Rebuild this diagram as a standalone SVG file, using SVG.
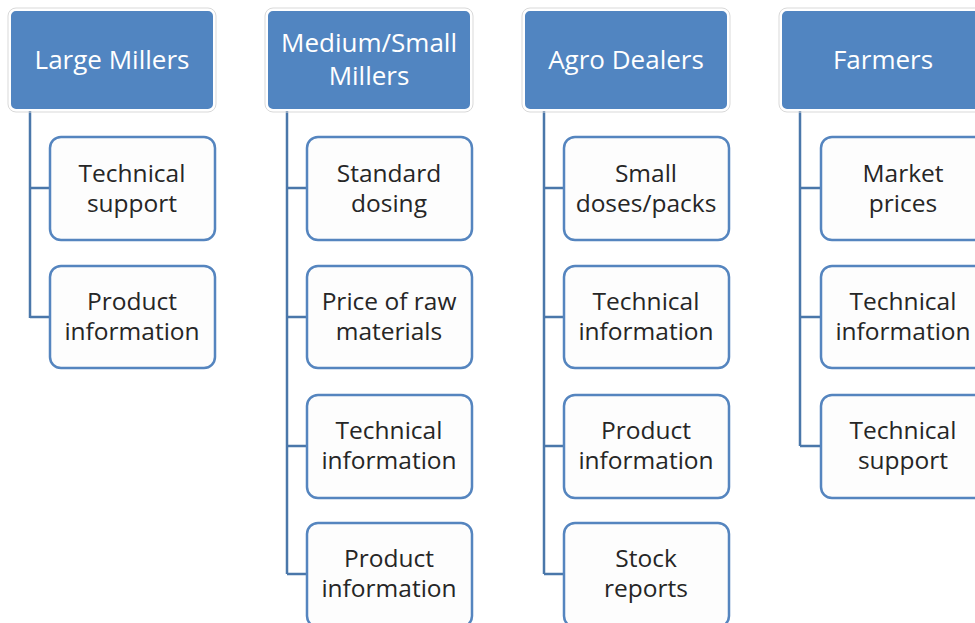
<svg xmlns="http://www.w3.org/2000/svg" width="975" height="623" viewBox="0 0 975 623">
<style>
.hd{fill:#5185c1;stroke:#ffffff;stroke-width:2}
.hs{fill:none;stroke:#d9d9d9;stroke-width:1}
.ch{fill:#fdfdfd;stroke:#5585bf;stroke-width:2.5}
.ht{font-family:"Open Sans","Liberation Sans",sans-serif;font-size:26px;fill:#ffffff;text-anchor:middle}
.ct{font-family:"Open Sans","Liberation Sans",sans-serif;font-size:24.5px;fill:#262626;text-anchor:middle}
.cn{fill:none;stroke:#4a77aa;stroke-width:2.5}
</style>
<rect width="975" height="623" fill="#ffffff"/>
<g id="connectors">
<path class="cn" d="M30 110V318M30 188H50M30 317H50"/>
<path class="cn" d="M287 110V574M287 188H307M287 317H307M287 446H307M287 574H307"/>
<path class="cn" d="M544 110V574M544 188H564M544 317H564M544 446H564M544 574H564"/>
<path class="cn" d="M800 110V446M800 188H821M800 317H821M800 446H821"/>
</g>
<g id="h1"><rect class="hs" x="8" y="8" width="208" height="104" rx="8"/><rect class="hd" x="10" y="10" width="204" height="100" rx="6"/><text class="ht" x="112" y="69">Large Millers</text></g>
<g id="h2"><rect class="hs" x="265" y="8" width="208" height="104" rx="8"/><rect class="hd" x="267" y="10" width="204" height="100" rx="6"/><text class="ht" x="369" y="52">Medium/Small</text><text class="ht" x="369" y="85">Millers</text></g>
<g id="h3"><rect class="hs" x="522" y="8" width="208" height="104" rx="8"/><rect class="hd" x="524" y="10" width="204" height="100" rx="6"/><text class="ht" x="626" y="69">Agro Dealers</text></g>
<g id="h4"><rect class="hs" x="779" y="8" width="208" height="104" rx="8"/><rect class="hd" x="781" y="10" width="204" height="100" rx="6"/><text class="ht" x="883" y="69">Farmers</text></g>

<g id="c1a"><rect class="ch" x="50" y="137" width="165" height="103" rx="11"/><text class="ct" x="132" y="182">Technical</text><text class="ct" x="132" y="212">support</text></g>
<g id="c1b"><rect class="ch" x="50" y="266" width="165" height="102" rx="11"/><text class="ct" x="132" y="310">Product</text><text class="ct" x="132" y="340">information</text></g>

<g id="c2a"><rect class="ch" x="307" y="137" width="165" height="103" rx="11"/><text class="ct" x="389" y="182">Standard</text><text class="ct" x="389" y="212">dosing</text></g>
<g id="c2b"><rect class="ch" x="307" y="266" width="165" height="102" rx="11"/><text class="ct" x="389" y="310">Price of raw</text><text class="ct" x="389" y="340">materials</text></g>
<g id="c2c"><rect class="ch" x="307" y="395" width="165" height="103" rx="11"/><text class="ct" x="389" y="439">Technical</text><text class="ct" x="389" y="469">information</text></g>
<g id="c2d"><rect class="ch" x="307" y="523" width="165" height="104" rx="11"/><text class="ct" x="389" y="567">Product</text><text class="ct" x="389" y="597">information</text></g>

<g id="c3a"><rect class="ch" x="564" y="137" width="165" height="103" rx="11"/><text class="ct" x="646" y="182">Small</text><text class="ct" x="646" y="212">doses/packs</text></g>
<g id="c3b"><rect class="ch" x="564" y="266" width="165" height="102" rx="11"/><text class="ct" x="646" y="310">Technical</text><text class="ct" x="646" y="340">information</text></g>
<g id="c3c"><rect class="ch" x="564" y="395" width="165" height="103" rx="11"/><text class="ct" x="646" y="439">Product</text><text class="ct" x="646" y="469">information</text></g>
<g id="c3d"><rect class="ch" x="564" y="523" width="165" height="104" rx="11"/><text class="ct" x="646" y="567">Stock</text><text class="ct" x="646" y="597">reports</text></g>

<g id="c4a"><rect class="ch" x="821" y="137" width="165" height="103" rx="11"/><text class="ct" x="903" y="182">Market</text><text class="ct" x="903" y="212">prices</text></g>
<g id="c4b"><rect class="ch" x="821" y="266" width="165" height="102" rx="11"/><text class="ct" x="903" y="310">Technical</text><text class="ct" x="903" y="340">information</text></g>
<g id="c4c"><rect class="ch" x="821" y="395" width="165" height="103" rx="11"/><text class="ct" x="903" y="439">Technical</text><text class="ct" x="903" y="469">support</text></g>
</svg>
